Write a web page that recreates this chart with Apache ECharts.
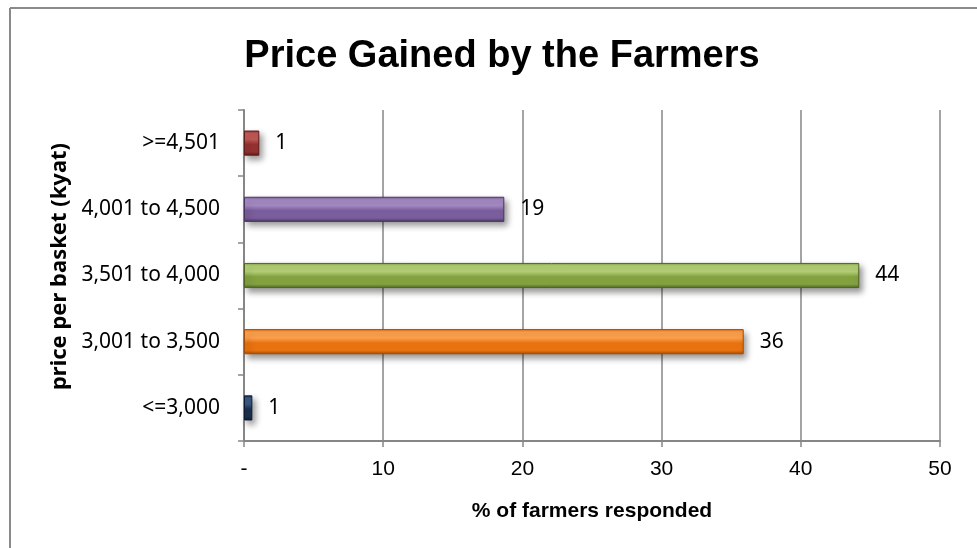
<!DOCTYPE html>
<html>
<head>
<meta charset="utf-8">
<script src="https://cdn.jsdelivr.net/npm/echarts@6/dist/echarts.min.js"></script>
<style>
html,body{margin:0;padding:0;background:#fff;}
#chart{width:977px;height:548px;}
</style>
</head>
<body>
<div id="chart"></div>
<script>
// ---- data ----
var categories = ['<=3,000', '3,001 to 3,500', '3,501 to 4,000', '4,001 to 4,500', '>=4,501'];
var percentValues = [0.6, 35.9, 44.2, 18.7, 1.1];
var xTickValues = [0, 10, 20, 30, 40, 50];
var titleText = 'Price Gained by the Farmers';
var xAxisTitle = '% of farmers responded';
var yAxisTitle = 'price per basket (kyat)';

// ---- styles ----
var barPalette = [
  ['#3a5a85', '#1b2f4d', '#0e1c31'],
  ['#ffa24d', '#e8720f', '#a44b05'],
  ['#b5d177', '#83a13f', '#4e6426'],
  ['#a58bc4', '#7a5d9c', '#4a3663'],
  ['#c25a57', '#943231', '#5e1c1b']
];

function barGradient(c) {
  return new echarts.graphic.LinearGradient(0, 0, 0, 1, [
    {offset: 0, color: c[1]},
    {offset: 0.12, color: c[0]},
    {offset: 0.35, color: c[0]},
    {offset: 0.55, color: c[1]},
    {offset: 0.85, color: c[1]},
    {offset: 1, color: c[2]}
  ]);
}

var seriesData = percentValues.map(function (v, i) {
  return {
    value: v,
    itemStyle: {
      color: barGradient(barPalette[i]),
      borderColor: barPalette[i][2],
      borderWidth: 1,
      shadowColor: 'rgba(0,0,0,0.4)',
      shadowBlur: 6,
      shadowOffsetX: 3,
      shadowOffsetY: 4
    }
  };
});

var narrow = '"Liberation Sans", sans-serif';
var chart = echarts.init(document.getElementById('chart'));
chart.setOption({
  animation: false,
  backgroundColor: '#fff',
  title: {
    text: titleText,
    left: 497,
    top: 33,
    textAlign: 'center',
    textStyle: {fontFamily: narrow, fontWeight: 'bold', fontSize: 38, color: '#000'}
  },
  grid: {left: 244, right: 37, top: 110, bottom: 107, containLabel: false},
  xAxis: {
    type: 'value',
    min: xTickValues[0],
    max: xTickValues[xTickValues.length - 1],
    interval: xTickValues[1] - xTickValues[0],
    name: xAxisTitle,
    nameLocation: 'middle',
    nameGap: 60,
    nameTextStyle: {fontFamily: narrow, fontWeight: 'bold', fontSize: 21, color: '#000'},
    axisLine: {show: true, lineStyle: {color: '#868686', width: 2}},
    axisTick: {show: true, length: 6, lineStyle: {color: '#868686', width: 1.5}},
    axisLabel: {
      margin: 18,
      fontFamily: narrow,
      fontSize: 21,
      color: '#000',
      formatter: function (v) { return v === 0 ? '-' : String(v); }
    },
    splitLine: {show: true, lineStyle: {color: '#868686', width: 1.5}}
  },
  yAxis: {
    type: 'category',
    data: categories,
    name: yAxisTitle,
    nameLocation: 'middle',
    nameGap: 170,
    nameRotate: 90,
    nameTextStyle: {fontFamily: '"Noto Sans", sans-serif', fontWeight: 'bold', fontSize: 22, color: '#000', padding: [0, 0, 0, 18]},
    axisLine: {show: true, lineStyle: {color: '#868686', width: 2}},
    axisTick: {show: true, length: 6, lineStyle: {color: '#868686', width: 1.5}},
    axisLabel: {margin: 24, fontFamily: '"Noto Sans", sans-serif', fontSize: 21, color: '#000'},
    splitLine: {show: false}
  },
  series: [{
    type: 'bar',
    data: seriesData,
    barWidth: '38%',
    label: {
      show: true,
      position: 'right',
      distance: 16,
      fontFamily: '"Noto Sans", sans-serif',
      fontSize: 21,
      color: '#000',
      formatter: function (p) { return String(Math.round(p.value)); }
    }
  }],
  graphic: [
    {type: 'line', shape: {x1: 10, y1: 8, x2: 977, y2: 8}, style: {stroke: '#8a8a8a', lineWidth: 2}, silent: true},
    {type: 'line', shape: {x1: 10, y1: 8, x2: 10, y2: 548}, style: {stroke: '#8a8a8a', lineWidth: 2}, silent: true}
  ]
});
</script>
</body>
</html>
